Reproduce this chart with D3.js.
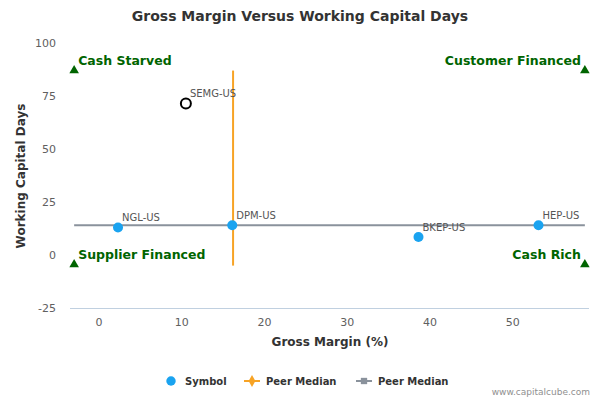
<!DOCTYPE html>
<html><head><meta charset="utf-8">
<script src="https://cdn.jsdelivr.net/npm/d3@7"></script>
<style>body{margin:0;background:#fff;font-family:"DejaVu Sans",sans-serif}</style></head>
<body><svg id="c" width="600" height="400"></svg>
<script>
const names=["NGL-US","SEMG-US","DPM-US","BKEP-US","HEP-US"];
const grossMargin=[2.3,10.5,16.1,38.6,53.1];
const wcDays=[13,71.5,14,8.5,14];
const hollow=[false,true,false,false,false];
const medianX=16.2, medianY=14;
const xTicks=[0,10,20,30,40,50], yTicks=[-25,0,25,50,75,100];
const quadrants=[{t:"Cash Starved",x:-3,y:87,a:"start"},{t:"Customer Financed",x:58.7,y:87,a:"end"},{t:"Supplier Financed",x:-3,y:-4.5,a:"start"},{t:"Cash Rich",x:58.7,y:-4.5,a:"end"}];

const svg=d3.select("#c");
const x=d3.scaleLinear().domain([-3.5,59.2]).range([70,589]);
const y=d3.scaleLinear().domain([-25,100]).range([308,43]);
svg.append("text").attr("x",300).attr("y",21).attr("text-anchor","middle").attr("font-size",14).attr("font-weight","bold").attr("fill","#333").text("Gross Margin Versus Working Capital Days");
svg.append("line").attr("x1",70).attr("x2",589).attr("y1",308.5).attr("y2",308.5).attr("stroke","#c0d0e0");
xTicks.forEach(t=>{svg.append("text").attr("x",x(t)).attr("y",326).attr("text-anchor","middle").attr("font-size",11).attr("fill","#606060").text(t);});
yTicks.forEach(t=>{svg.append("text").attr("x",56).attr("y",y(t)+4).attr("text-anchor","end").attr("font-size",11).attr("fill","#606060").text(t);});
svg.append("text").attr("x",330).attr("y",346).attr("text-anchor","middle").attr("font-size",12).attr("font-weight","bold").attr("fill","#333").text("Gross Margin (%)");
svg.append("text").attr("transform","translate(25,176) rotate(-90)").attr("text-anchor","middle").attr("font-size",12).attr("font-weight","bold").attr("fill","#333").text("Working Capital Days");
svg.append("line").attr("x1",x(-3)).attr("x2",x(58.7)).attr("y1",y(medianY)).attr("y2",y(medianY)).attr("stroke","#8a929c").attr("stroke-width",2);
svg.append("line").attr("x1",x(medianX)).attr("x2",x(medianX)).attr("y1",y(87)).attr("y2",y(-5)).attr("stroke","#f7a325").attr("stroke-width",2);
const tri=d3.symbol().type(d3.symbolTriangle).size(40);
quadrants.forEach(q=>{
 svg.append("path").attr("d",tri).attr("transform",`translate(${x(q.x)},${y(q.y)})`).attr("fill","#006400");
 svg.append("text").attr("x",x(q.x)+(q.a=="start"?4:-4)).attr("y",y(q.y)-6).attr("text-anchor",q.a).attr("font-size",12.5).attr("font-weight","bold").attr("fill","#006400").text(q.t);
});
names.forEach((n,i)=>{
 svg.append("circle").attr("cx",x(grossMargin[i])).attr("cy",y(wcDays[i])).attr("r",5).attr("fill",hollow[i]?"#fff":"#1aa3f0").attr("stroke",hollow[i]?"#000":"none").attr("stroke-width",2);
 svg.append("text").attr("x",x(grossMargin[i])+4).attr("y",y(wcDays[i])-6).attr("font-size",10).attr("fill","#555").text(n);
});
const lg=[{t:"Symbol",c:"#1aa3f0",s:"circle",lx:171},{t:"Peer Median",c:"#f7a325",s:"diamond",lx:252},{t:"Peer Median",c:"#8a929c",s:"square",lx:364}];
lg.forEach(l=>{
 if(l.s!="circle") svg.append("line").attr("x1",l.lx-8).attr("x2",l.lx+8).attr("y1",381).attr("y2",381).attr("stroke",l.c).attr("stroke-width",2);
 svg.append("path").attr("d",d3.symbol().type(l.s=="circle"?d3.symbolCircle:l.s=="diamond"?d3.symbolDiamond:d3.symbolSquare).size(l.s=="circle"?70:40)).attr("transform",`translate(${l.lx},381)`).attr("fill",l.c);
 svg.append("text").attr("x",l.lx+14).attr("y",385).attr("font-size",10).attr("font-weight","bold").attr("fill","#333").text(l.t);
});
svg.append("text").attr("x",590).attr("y",395).attr("text-anchor","end").attr("font-size",9).attr("fill","#909090").text("www.capitalcube.com");
</script></body></html>
